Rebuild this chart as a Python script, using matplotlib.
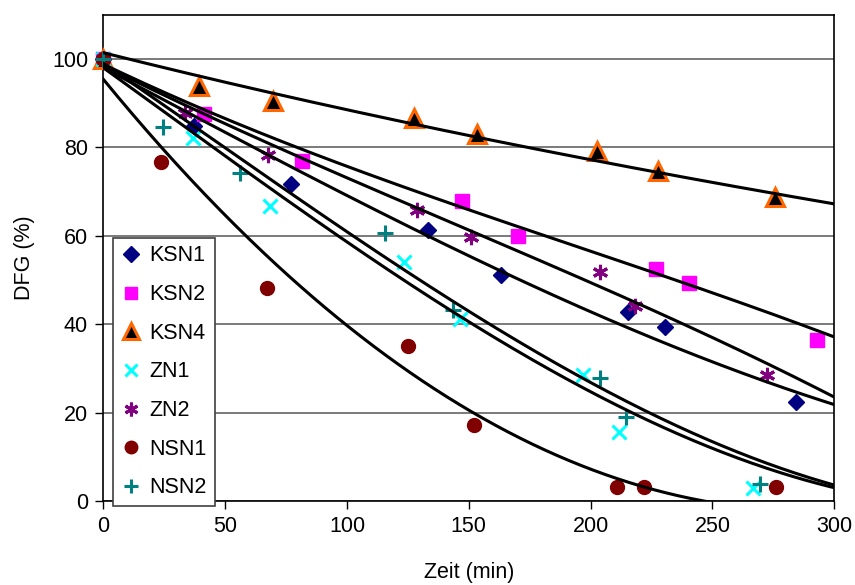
import numpy as np
import matplotlib
matplotlib.use('Agg')
from matplotlib import pyplot as plt

plt.rcParams['font.family'] = ['Liberation Sans', 'DejaVu Sans']

# Messwerte (Zeit in min, DFG in %)
ksn1_t = [0, 37.3, 77.1, 133.4, 163.3, 215.4, 230.6, 284.4]
ksn1_y = [100, 84.9, 71.6, 61.2, 51.2, 42.7, 39.3, 22.3]

ksn2_t = [0, 41.2, 81.7, 147.2, 170.0, 227.0, 240.2, 293.1]
ksn2_y = [100, 87.5, 77.0, 67.8, 60.0, 52.5, 49.4, 36.5]

ksn4_t = [0, 39.4, 69.6, 127.6, 153.3, 202.6, 227.6, 275.5]
ksn4_y = [100, 93.9, 90.5, 86.6, 83.0, 79.2, 74.7, 68.7]

zn1_t = [0, 36.8, 68.5, 123.6, 146.5, 196.7, 211.5, 266.5]
zn1_y = [100, 82.1, 66.8, 54.0, 41.2, 28.6, 15.6, 2.9]

zn2_t = [0, 33.4, 67.4, 128.7, 150.9, 203.7, 218.3, 272.3]
zn2_y = [100, 87.7, 78.3, 65.8, 59.7, 51.8, 44.1, 28.4]

nsn1_t = [0, 23.8, 67.2, 125.0, 152.0, 211.0, 222.0, 276.0]
nsn1_y = [100, 76.6, 48.2, 35.1, 17.3, 3.1, 3.1, 3.1]

nsn2_t = [0, 24.5, 56.2, 115.7, 143.7, 203.7, 214.6, 269.6]
nsn2_y = [100, 84.5, 74.3, 60.6, 43.3, 27.9, 19.0, 3.8]

trend_t = [0, 100, 200, 300]
ksn1_trend = [98.0, 69.1, 42.8, 21.8]
ksn2_trend = [98.8, 75.7, 56.5, 37.1]
ksn4_trend = [101.4, 88.5, 77.2, 67.2]
zn1_trend = [99.0, 60.9, 26.8, 3.6]
zn2_trend = [98.5, 73.1, 49.4, 23.5]
nsn1_trend = [95.4, 39.7, 7.2, -2.1]
nsn2_trend = [98.0, 58.6, 24.7, 3.0]

fig = plt.figure(figsize=(8.55, 5.85), dpi=100)
ax = fig.add_axes([0.1208, 0.1436, 0.8550, 0.8313])

serien = [
	('KSN1', ksn1_t, ksn1_y, ksn1_trend, dict(marker='D', color='#000080', ms=8.5, mec='#000080')),
	('KSN2', ksn2_t, ksn2_y, ksn2_trend, dict(marker='s', color='#FF00FF', ms=9.5, mec='#FF00FF')),
	('KSN4', ksn4_t, ksn4_y, ksn4_trend, dict(marker='^', color='black', ms=13, mec='#FF6600', mew=2.2)),
	('ZN1', zn1_t, zn1_y, zn1_trend, dict(marker='x', color='#00FFFF', ms=10, mew=2.2)),
	('ZN2', zn2_t, zn2_y, zn2_trend, dict(marker=(6, 2, 0), color='#800080', ms=11, mew=2.2)),
	('NSN1', nsn1_t, nsn1_y, nsn1_trend, dict(marker='o', color='#800000', ms=10, mec='#800000')),
	('NSN2', nsn2_t, nsn2_y, nsn2_trend, dict(marker='+', color='#008080', ms=11, mew=2.2)),
]

tt = np.linspace(0, 300, 301)
for name, t, y, trend, stil in serien:
	ax.plot(t, y, ls='none', label=name, zorder=3, clip_on=False, **stil)
	p = np.polyfit(trend_t, trend, 3)
	ax.plot(tt, np.polyval(p, tt), color='black', lw=2.2, zorder=4)

ax.set_xlim(0, 300)
ax.set_ylim(0, 110)
ax.set_xticks(range(0, 301, 50))
ax.set_yticks(range(0, 101, 20))
ax.yaxis.grid(True, color='#707070', lw=1.3)
ax.set_axisbelow(True)
for s in ax.spines.values():
	s.set_color('black')
	s.set_linewidth(1.2)
ax.tick_params(direction='out', length=6, width=1, labelsize=15.5, pad=5)
ax.set_xlabel('Zeit (min)', fontsize=15.5, labelpad=18)
ax.set_ylabel('DFG (%)', fontsize=15.5, labelpad=12)

leg = ax.legend(loc='upper left', bbox_to_anchor=(0.0133, 0.541), fontsize=15.5,
	frameon=True, fancybox=False, edgecolor='#404040', framealpha=1,
	handlelength=1.0, handletextpad=0.35, labelspacing=0.82, borderpad=0.35,
	borderaxespad=0, markerscale=0.9)
leg.get_frame().set_linewidth(1.2)
leg.set_zorder(5)

plt.savefig('out.png', dpi=100)
